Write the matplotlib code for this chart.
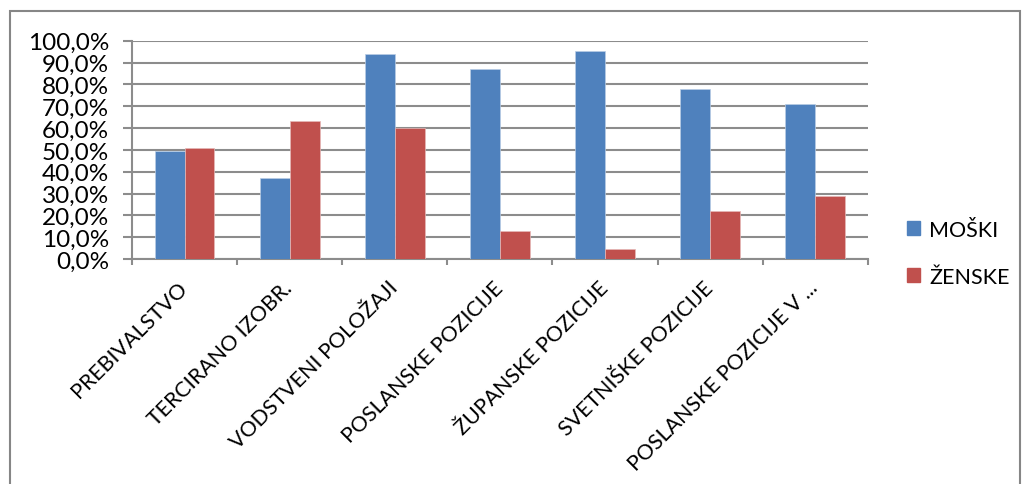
import matplotlib
matplotlib.use("Agg")
import matplotlib.pyplot as plt
import numpy as np
from matplotlib.patches import Patch, Rectangle
from matplotlib.ticker import FuncFormatter

BLUE = "#4F81BD"
RED = "#C0504D"
GRID = "#8C8C8C"

categories = ["PREBIVALSTVO", "TERCIRANO IZOBR.", "VODSTVENI POLOŽAJI",
              "POSLANSKE POZICIJE", "ŽUPANSKE POZICIJE", "SVETNIŠKE POZICIJE",
              "POSLANSKE POZICIJE V ..."]
moski = [49.3, 37.0, 94.0, 86.9, 95.1, 78.0, 71.0]
zenske = [50.7, 63.0, 60.0, 12.8, 4.7, 22.0, 28.9]

plt.rcParams["font.family"] = ["Lato", "DejaVu Sans"]

fig = plt.figure(figsize=(10.27, 4.85), dpi=100)
fig.patch.set_facecolor("white")
ax = fig.add_axes([0.1285, 0.4639, 0.845 - 0.1285, 0.914 - 0.4639])

x = np.arange(len(categories))
w = 0.285
ax.bar(x - w / 2, moski, w, color=BLUE, edgecolor="#B9CDE5", linewidth=0.5, zorder=3)
ax.bar(x + w / 2, zenske, w, color=RED, edgecolor="#E6B9B8", linewidth=0.5, zorder=3)

ax.set_xlim(-0.5, len(categories) - 0.5)
ax.set_ylim(0, 100)
ax.set_yticks(np.arange(0, 101, 10))
ax.yaxis.set_major_formatter(FuncFormatter(lambda v, p: f"{v:.1f}%".replace(".", ",")))
ax.grid(axis="y", color=GRID, linewidth=1.5, zorder=0)

ax.set_xticks(x - 0.07)
ax.set_xticklabels(categories, rotation=45, ha="right", rotation_mode="anchor")
ax.set_xticks(np.arange(-0.5, len(categories)), minor=True)
ax.tick_params(axis="x", which="major", length=0, pad=13, labelsize=15.4)
ax.tick_params(axis="x", which="minor", length=4, width=1.5, color=GRID)
ax.tick_params(axis="y", length=6.5, width=1.5, color=GRID, pad=10, labelsize=17.5)

for s in ["top", "right"]:
    ax.spines[s].set_visible(False)
for s in ["left", "bottom"]:
    ax.spines[s].set_color(GRID)
    ax.spines[s].set_linewidth(1.5)

handles = [Patch(color=BLUE, label="MOŠKI"), Patch(color=RED, label="ŽENSKE")]
fig.legend(handles=handles, loc="center left", bbox_to_anchor=(0.864, 0.476),
           frameon=False, fontsize=15.5, handlelength=0.64, handleheight=0.64,
           handletextpad=0.4, labelspacing=1.25)

fig.patches.append(Rectangle((10 / 1027, -10 / 485), 1010 / 1027, 483 / 485,
                             transform=fig.transFigure, fill=False,
                             edgecolor="#868686", linewidth=1.5))

fig.savefig("out.png", dpi=100, facecolor="white")
